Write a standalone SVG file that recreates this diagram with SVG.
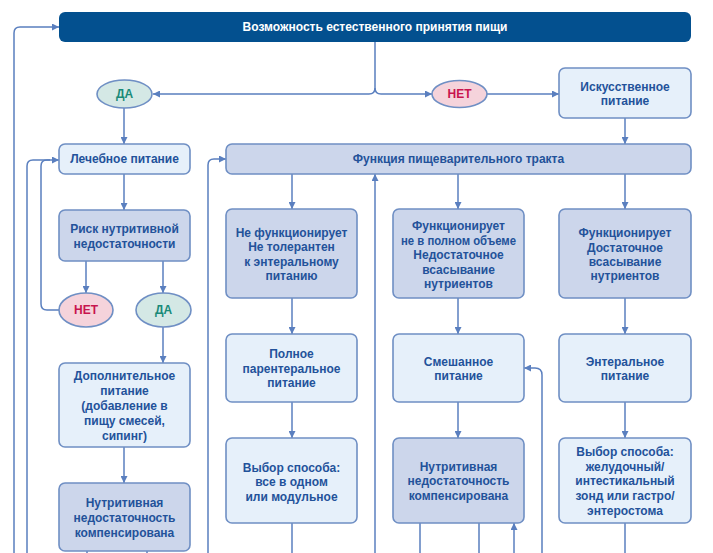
<svg xmlns="http://www.w3.org/2000/svg" width="713" height="553" viewBox="0 0 713 553">
<defs>
<marker id="ah" viewBox="0 0 7 7" refX="7" refY="3.5" markerWidth="7" markerHeight="7" markerUnits="userSpaceOnUse" orient="auto">
<path d="M0,0 L7,3.5 L0,7 z" fill="#5a7fbf"/>
</marker>
<style>
.l{fill:#e6f0fa;stroke:#6f8fc4;stroke-width:1.6}
.d{fill:#ccd6eb;stroke:#6f8fc4;stroke-width:1.6}
.t{font-family:"Liberation Sans",Arial,sans-serif;font-weight:bold;font-size:12px;fill:#23529a;text-anchor:middle}
.c{fill:none;stroke:#5a7fbf;stroke-width:1.5}
.ya{fill:#d4e8e5;stroke:#6f8fc4;stroke-width:1.6}
.no{fill:#f5d3db;stroke:#6f8fc4;stroke-width:1.6}
.yt{font-family:"Liberation Sans",Arial,sans-serif;font-weight:bold;font-size:12px;fill:#1a8a78;text-anchor:middle}
.nt{font-family:"Liberation Sans",Arial,sans-serif;font-weight:bold;font-size:12px;fill:#c8144e;text-anchor:middle}
</style>
</defs>
<rect width="713" height="553" fill="#ffffff"/>
<g id="connectors">
<path class="c" d="M14,553 V33 Q14,27 20,27 H59" marker-end="url(#ah)"/>
<path class="c" d="M375,42 V88 Q375,94 369,94 H153" marker-end="url(#ah)"/>
<path class="c" d="M375,88 Q375,94 381,94 H432" marker-end="url(#ah)"/>
<path class="c" d="M487,94 H559" marker-end="url(#ah)"/>
<path class="c" d="M625,118 V144" marker-end="url(#ah)"/>
<path class="c" d="M124,108 V144" marker-end="url(#ah)"/>
<path class="c" d="M124,174 V210" marker-end="url(#ah)"/>
<path class="c" d="M86,261 V293" marker-end="url(#ah)"/>
<path class="c" d="M163,261 V293" marker-end="url(#ah)"/>
<path class="c" d="M59,310 H47 Q41,310 41,304 V166 Q41,160 47,160 H59" marker-end="url(#ah)"/>
<path class="c" d="M27,553 V166 Q27,160 33,160 H50"/>
<path class="c" d="M163,327 V363" marker-end="url(#ah)"/>
<path class="c" d="M124,447 V483" marker-end="url(#ah)"/>
<path class="c" d="M87,551 V553 M147,551 V553"/>
<path class="c" d="M208,553 V165 Q208,159 214,159 H226" marker-end="url(#ah)"/>
<path class="c" d="M292,174 V209" marker-end="url(#ah)"/>
<path class="c" d="M292,298 V334" marker-end="url(#ah)"/>
<path class="c" d="M292,402 V438" marker-end="url(#ah)"/>
<path class="c" d="M292,523 V553"/>
<path class="c" d="M375,553 V174" marker-end="url(#ah)"/>
<path class="c" d="M458,174 V209" marker-end="url(#ah)"/>
<path class="c" d="M458,298 V334" marker-end="url(#ah)"/>
<path class="c" d="M458,402 V438" marker-end="url(#ah)"/>
<path class="c" d="M420,523 V553 M479,523 V553"/>
<path class="c" d="M514,553 V523" marker-end="url(#ah)"/>
<path class="c" d="M542,553 V375 Q542,368 535,368 H524" marker-end="url(#ah)"/>
<path class="c" d="M625,174 V209" marker-end="url(#ah)"/>
<path class="c" d="M625,298 V334" marker-end="url(#ah)"/>
<path class="c" d="M625,402 V438" marker-end="url(#ah)"/>
<path class="c" d="M625,523 V553"/>
</g>
<g id="top">
<rect x="59" y="12" width="632" height="30" rx="6" fill="#03508f"/>
<text class="t" x="375" y="31" style="fill:#ffffff">Возможность естественного принятия пищи</text>
</g>
<g id="yes1">
<ellipse class="ya" cx="124.5" cy="94" rx="27.5" ry="14"/>
<text class="yt" x="124.5" y="98">ДА</text>
</g>
<g id="no1">
<ellipse class="no" cx="459.5" cy="94" rx="27.5" ry="13.5"/>
<text class="nt" x="459.5" y="98">НЕТ</text>
</g>
<g id="artificial">
<rect class="l" x="559" y="68" width="132" height="50" rx="6"/>
<text class="t" x="625" y="91">Искусственное</text>
<text class="t" x="625" y="105">питание</text>
</g>
<g id="therapeutic">
<rect class="l" x="59" y="144" width="131" height="30" rx="6"/>
<text class="t" x="124.5" y="163">Лечебное питание</text>
</g>
<g id="function">
<rect class="d" x="226" y="144" width="465" height="30" rx="6"/>
<text class="t" x="458.5" y="163">Функция пищеварительного тракта</text>
</g>
<g id="risk">
<rect class="d" x="59" y="210" width="131" height="51" rx="6"/>
<text class="t" x="124.5" y="233">Риск нутритивной</text>
<text class="t" x="124.5" y="248">недостаточности</text>
</g>
<g id="no2">
<ellipse class="no" cx="86" cy="310" rx="27" ry="17"/>
<text class="nt" x="86" y="314">НЕТ</text>
</g>
<g id="yes2">
<ellipse class="ya" cx="163.5" cy="310" rx="27.5" ry="17"/>
<text class="yt" x="163.5" y="314">ДА</text>
</g>
<g id="supplement">
<rect class="l" x="59" y="363" width="131" height="84" rx="6"/>
<text class="t" x="124.5" y="380">Дополнительное</text>
<text class="t" x="124.5" y="395">питание</text>
<text class="t" x="124.5" y="410">(добавление в</text>
<text class="t" x="124.5" y="425">пищу смесей,</text>
<text class="t" x="124.5" y="440">сипинг)</text>
</g>
<g id="compensated1">
<rect class="d" x="59" y="483" width="131" height="68" rx="6"/>
<text class="t" x="124.5" y="507">Нутритивная</text>
<text class="t" x="124.5" y="522">недостаточность</text>
<text class="t" x="124.5" y="537">компенсирована</text>
</g>
<g id="notfunc">
<rect class="d" x="226" y="209" width="131" height="89" rx="6"/>
<text class="t" x="291.5" y="237">Не функционирует</text>
<text class="t" x="291.5" y="251">Не толерантен</text>
<text class="t" x="291.5" y="266">к энтеральному</text>
<text class="t" x="291.5" y="280">питанию</text>
</g>
<g id="parenteral">
<rect class="l" x="226" y="334" width="131" height="68" rx="6"/>
<text class="t" x="291.5" y="358">Полное</text>
<text class="t" x="291.5" y="373">парентеральное</text>
<text class="t" x="291.5" y="387">питание</text>
</g>
<g id="choice1">
<rect class="l" x="226" y="438" width="131" height="85" rx="6"/>
<text class="t" x="291.5" y="472">Выбор способа:</text>
<text class="t" x="291.5" y="486">все в одном</text>
<text class="t" x="291.5" y="501">или модульное</text>
</g>
<g id="partial">
<rect class="d" x="393" y="209" width="131" height="89" rx="6"/>
<text class="t" x="458.5" y="230">Функционирует</text>
<text class="t" x="458.5" y="245" textLength="115" lengthAdjust="spacingAndGlyphs">не в полном объеме</text>
<text class="t" x="458.5" y="259">Недостаточное</text>
<text class="t" x="458.5" y="274">всасывание</text>
<text class="t" x="458.5" y="288">нутриентов</text>
</g>
<g id="mixed">
<rect class="l" x="393" y="334" width="131" height="68" rx="6"/>
<text class="t" x="458.5" y="366">Смешанное</text>
<text class="t" x="458.5" y="380">питание</text>
</g>
<g id="compensated2">
<rect class="d" x="393" y="438" width="131" height="85" rx="6"/>
<text class="t" x="458.5" y="471">Нутритивная</text>
<text class="t" x="458.5" y="485">недостаточность</text>
<text class="t" x="458.5" y="500">компенсирована</text>
</g>
<g id="full">
<rect class="d" x="559" y="209" width="132" height="89" rx="6"/>
<text class="t" x="625" y="237">Функционирует</text>
<text class="t" x="625" y="252">Достаточное</text>
<text class="t" x="625" y="266">всасывание</text>
<text class="t" x="625" y="280">нутриентов</text>
</g>
<g id="enteral">
<rect class="l" x="559" y="334" width="132" height="68" rx="6"/>
<text class="t" x="625" y="366">Энтеральное</text>
<text class="t" x="625" y="380">питание</text>
</g>
<g id="choice2">
<rect class="l" x="559" y="438" width="132" height="85" rx="6"/>
<text class="t" x="625" y="456">Выбор способа:</text>
<text class="t" x="625" y="471">желудочный/</text>
<text class="t" x="625" y="485">интестикальный</text>
<text class="t" x="625" y="500">зонд или гастро/</text>
<text class="t" x="625" y="515">энтеростома</text>
</g>
</svg>
